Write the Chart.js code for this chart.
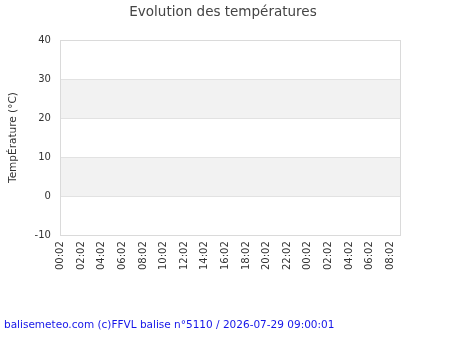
<!DOCTYPE html>
<html><head><meta charset="utf-8">
<script src="https://cdn.jsdelivr.net/npm/chart.js@4.4.1/dist/chart.umd.min.js"></script>
<style>html,body{margin:0;padding:0;background:#fff;overflow:hidden}</style>
</head><body>
<canvas id="c" width="450" height="350" style="width:450px;height:350px;display:block"></canvas>
<script>
const chartTitle = 'Evolution des températures';
const yAxisTitle = 'TempÉrature (°C)';
const footerText = 'balisemeteo.com (c)FFVL balise n°5110 / 2026-07-29 09:00:01';
const xTickLabels = ['00:02','02:02','04:02','06:02','08:02','10:02','12:02','14:02','16:02','18:02','20:02','22:02','00:02','02:02','04:02','06:02','08:02'];
const xTickHours = [0,2,4,6,8,10,12,14,16,18,20,22,24,26,28,30,32];
const xMaxHours = 33;
const yMin = -10, yMax = 40, yStep = 10;
const temperatures = []; // no measurements in the reference

Chart.defaults.font.family = '"DejaVu Sans", sans-serif';

const bandsPlugin = {
  id: 'bands',
  beforeDraw(chart) {
    const {ctx, chartArea: a, scales: {y}} = chart;
    ctx.save();
    ctx.fillStyle = '#ffffff';
    ctx.fillRect(0, 0, chart.width, chart.height);
    ctx.fillStyle = '#f2f2f2';
    let i = 0;
    for (let v = yMin; v < yMax; v += yStep, i++) {
      if (i % 2 === 1) {
        const t = y.getPixelForValue(v + yStep), b = y.getPixelForValue(v);
        ctx.fillRect(a.left, t, a.right - a.left, b - t);
      }
    }
    ctx.restore();
  },
  afterDatasetsDraw(chart) {
    const {ctx, chartArea: a} = chart;
    ctx.save();
    ctx.strokeStyle = '#dadada';
    ctx.lineWidth = 1;
    ctx.strokeRect(Math.round(a.left) + 0.5, Math.round(a.top) + 0.5, Math.round(a.right - a.left), Math.round(a.bottom - a.top));
    ctx.restore();
  }
};

new Chart(document.getElementById('c'), {
  type: 'line',
  data: { datasets: [{ label: 'Température', data: temperatures, borderColor: '#e03030' }] },
  plugins: [bandsPlugin],
  options: {
    responsive: false,
    animation: false,
    devicePixelRatio: 1,
    layout: { padding: { left: 4, right: 8, top: 0, bottom: 0 } },
    plugins: {
      legend: { display: false },
      tooltip: { enabled: false },
      title: { display: true, text: chartTitle, color: '#444', font: { size: 13.5, weight: 'normal' }, padding: { top: 4, bottom: 19.8 } },
      subtitle: { display: true, position: 'bottom', align: 'start', text: footerText, color: '#1515e8', font: { size: 10.5 }, padding: { top: 43.4, bottom: 18 } }
    },
    scales: {
      x: {
        type: 'linear', min: 0, max: xMaxHours,
        grid: { display: false, drawTicks: false },
        border: { display: false },
        afterBuildTicks: s => { s.ticks = xTickHours.map(v => ({ value: v })); },
        ticks: {
          autoSkip: false, minRotation: 90, maxRotation: 90, padding: 6,
          color: '#333', font: { size: 10 },
          callback: (v) => xTickLabels[xTickHours.indexOf(v)]
        }
      },
      y: {
        min: yMin, max: yMax,
        ticks: { stepSize: yStep, padding: 9.5, color: '#333', font: { size: 10 } },
        grid: { color: '#e2e2e2', drawTicks: false },
        border: { display: false },
        title: { display: true, text: yAxisTitle, color: '#333', font: { size: 10.5 }, padding: { top: 3, bottom: 5.5 } }
      },
      y2: {
        position: 'right', display: true,
        grid: { display: false, drawTicks: false },
        border: { display: false },
        ticks: { display: false },
        afterFit: s => { s.width = 41.3; }
      }
    }
  }
});
</script>
</body></html>
